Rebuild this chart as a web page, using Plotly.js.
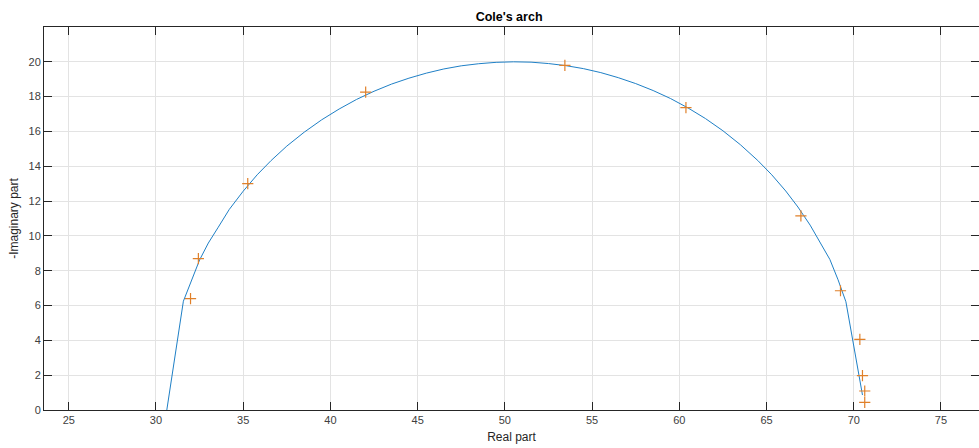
<!DOCTYPE html>
<html>
<head>
<meta charset="utf-8">
<script src="https://cdn.plot.ly/plotly-3.0.1.min.js"></script>
<style>html,body{margin:0;padding:0;background:#fff;}#chart{width:979px;height:448px;}</style>
</head>
<body>
<div id="chart"></div>
<script>
// Fitted Cole model curve (polyline vertices)
const fitReal = [30.62, 31.57, 32.5, 33.0, 33.57, 34.2, 35.0, 35.8, 36.6, 37.5, 38.5, 39.5, 40.5, 41.5, 42.5, 43.5, 44.5, 45.5, 46.5, 47.5, 48.5, 49.5, 50.5, 51.5, 52.5, 53.5, 54.5, 55.5, 56.5, 57.5, 58.5, 59.5, 60.5, 61.5, 62.5, 63.5, 64.5, 65.3, 66.1, 66.8, 67.5, 68.1, 68.63, 69.1, 69.55, 70.5];
const fitImag = [0.0, 6.25, 8.62, 9.59, 10.5, 11.52, 12.57, 13.51, 14.33, 15.16, 15.96, 16.67, 17.29, 17.84, 18.31, 18.72, 19.06, 19.35, 19.59, 19.77, 19.89, 19.97, 20.0, 19.98, 19.9, 19.78, 19.61, 19.38, 19.09, 18.75, 18.35, 17.89, 17.35, 16.74, 16.04, 15.24, 14.33, 13.51, 12.58, 11.66, 10.62, 9.59, 8.65, 7.48, 6.22, 0.86];
// Measured points
const measReal = [31.98, 32.43, 35.26, 42.02, 53.44, 60.38, 66.97, 69.24, 70.35, 70.5, 70.63, 70.63];
const measImag = [6.4, 8.7, 13.0, 18.26, 19.79, 17.37, 11.15, 6.85, 4.06, 1.97, 1.09, 0.44];

const titleText = "Cole's arch";
const xTitle = "Real part";
const yTitle = "-Imaginary part";
const xTicks = [25, 30, 35, 40, 45, 50, 55, 60, 65, 70, 75];
const yTicks = [0, 2, 4, 6, 8, 10, 12, 14, 16, 18, 20];

const axisCommon = {
  showgrid: true,
  gridcolor: '#e3e3e3',
  gridwidth: 1,
  zeroline: false,
  showline: true,
  linecolor: '#262626',
  linewidth: 1,
  mirror: 'ticks',
  ticks: 'inside',
  ticklen: 8,
  tickwidth: 1,
  tickcolor: '#262626',
  tickfont: {family: 'Liberation Sans, Arial, sans-serif', size: 11, color: '#404040'},
  tickmode: 'array'
};

const data = [
  {
    x: fitReal, y: fitImag, type: 'scatter', mode: 'lines',
    line: {color: '#1f80c6', width: 1}, hoverinfo: 'skip', showlegend: false
  },
  {
    x: measReal, y: measImag, type: 'scatter', mode: 'markers',
    marker: {symbol: 'cross-thin-open', size: 8, color: '#E0802A', line: {color: '#E0802A', width: 1.2}},
    showlegend: false
  }
];

const layout = {
  width: 979, height: 448,
  margin: {l: 44, r: 0, t: 27, b: 38, pad: 0},
  paper_bgcolor: '#ffffff', plot_bgcolor: '#ffffff',
  title: {text: '<b>' + titleText + '</b>', x: 0.52, xanchor: 'center', y: 0.963, yanchor: 'middle',
          font: {family: 'Liberation Sans, Arial, sans-serif', size: 12.5, color: '#000000'}},
  xaxis: Object.assign({}, axisCommon, {
    range: [23.58, 77.18], tickvals: xTicks, ticktext: xTicks.map(String),
    title: {text: xTitle, standoff: 7, font: {family: 'Liberation Sans, Arial, sans-serif', size: 12, color: '#262626'}}
  }),
  yaxis: Object.assign({}, axisCommon, {
    range: [0, 22], tickvals: yTicks, ticktext: yTicks.map(String),
    title: {text: yTitle, standoff: 7, font: {family: 'Liberation Sans, Arial, sans-serif', size: 12, color: '#262626'}}
  })
};

Plotly.newPlot('chart', data, layout, {displayModeBar: false, staticPlot: true});
</script>
</body>
</html>
